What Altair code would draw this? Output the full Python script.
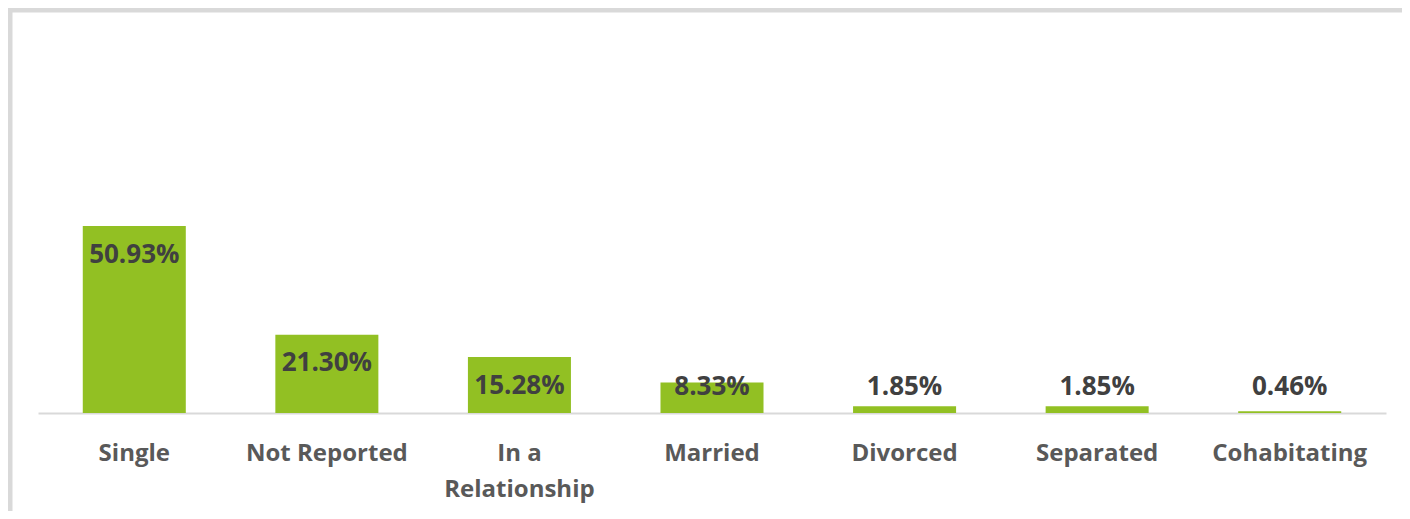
import altair as alt
import pandas as pd

categories = ["Single", "Not Reported", "In a Relationship", "Married", "Divorced", "Separated", "Cohabitating"]
values = [50.93, 21.30, 15.28, 8.33, 1.85, 1.85, 0.46]
labels = ["50.93%", "21.30%", "15.28%", "8.33%", "1.85%", "1.85%", "0.46%"]

df = pd.DataFrame({"category": categories, "value": values, "label": labels})

FONT = "Open Sans"

x_enc = alt.X(
    "category:N",
    sort=categories,
    title=None,
    scale=alt.Scale(paddingInner=0.465, paddingOuter=0.2325),
    axis=alt.Axis(
        labelAngle=0,
        ticks=False,
        domainColor="#D9D9D9",
        domainWidth=2,
        labelFont=FONT,
        labelFontSize=24,
        labelFontWeight="bold",
        labelColor="#595959",
        labelPadding=28,
        labelLineHeight=36,
        labelExpr="datum.label == 'In a Relationship' ? ['In a', 'Relationship'] : datum.label",
    ),
)
y_scale = alt.Scale(domain=[0, 100])

bars = alt.Chart(df).mark_bar(color="#92C023").encode(
    x=x_enc,
    y=alt.Y("value:Q", scale=y_scale, axis=None),
)

text = alt.Chart(df).transform_calculate(
    ypos="max(datum.value - 7.8, 7.1)"
).mark_text(
    font=FONT, fontSize=26, fontWeight="bold", color="#404040", baseline="middle"
).encode(
    x=alt.X("category:N", sort=categories),
    y=alt.Y("ypos:Q", scale=y_scale),
    text="label:N",
)

frame = alt.Chart(pd.DataFrame({"a": [0]})).mark_rect(
    fill=None, stroke="#D9D9D9", strokeWidth=5, clip=False
).encode(
    x=alt.value(-28), x2=alt.value(1420), y=alt.value(-36), y2=alt.value(700)
)

chart = alt.layer(frame, bars, text).properties(
    width=1348,
    height=367,
    background="white",
    autosize=alt.AutoSizeParams(type="none"),
    padding={"left": 30, "top": 38, "right": 16, "bottom": 98},
).configure_view(strokeWidth=0, stroke=None)

chart.save("out.html", embed_options={"renderer": "svg", "actions": False})
